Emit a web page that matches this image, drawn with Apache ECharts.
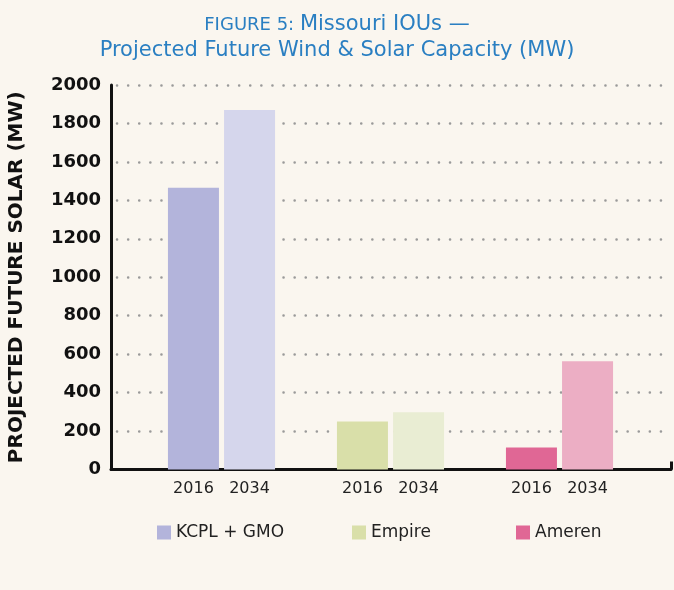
<!DOCTYPE html>
<html>
<head>
<meta charset="utf-8">
<script src="https://cdn.jsdelivr.net/npm/echarts@6/dist/echarts.min.js"></script>
<style>
  html, body { margin: 0; padding: 0; background: #faf6ef; }
  #chart { width: 674px; height: 590px; }
</style>
</head>
<body>
<div id="chart"></div>
<script>
// data
var companies = ['KCPL + GMO', 'Empire', 'Ameren'];
var years = ['2016', '2034'];
var values2016 = [1465, 250, 115];
var values2034 = [1870, 298, 563];
var colors2016 = ['#b3b4db', '#d9dfa9', '#e06795'];
var colors2034 = ['#d5d6ec', '#e9edd3', '#ecaec4'];
var legendLeft = [157, 352, 516];

var FONT = 'DejaVu Sans';
var myChart = echarts.init(document.getElementById('chart'));

function barData(vals, cols) {
  var out = [];
  for (var i = 0; i < vals.length; i++) {
    out.push({ value: vals[i], itemStyle: { color: cols[i] } });
  }
  return out;
}

var barLabel = {
  show: true,
  position: 'bottom',
  distance: 11,
  color: '#222',
  fontSize: 16,
  fontFamily: FONT,
  formatter: function (p) { return p.seriesName; }
};

var series = [
  {
    name: years[0], type: 'bar', xAxisIndex: 1, yAxisIndex: 1,
    barWidth: 51, barGap: '10%',
    label: barLabel,
    data: barData(values2016, colors2016)
  },
  {
    name: years[1], type: 'bar', xAxisIndex: 1, yAxisIndex: 1,
    barWidth: 51, barGap: '10%',
    label: barLabel,
    data: barData(values2034, colors2034)
  }
];
// dummy series only for the legend swatches
for (var i = 0; i < companies.length; i++) {
  series.push({ name: companies[i], type: 'line', xAxisIndex: 1, yAxisIndex: 1, data: [], itemStyle: { color: colors2016[i] } });
}

var legends = [];
for (var j = 0; j < companies.length; j++) {
  legends.push({
    data: [companies[j]],
    left: legendLeft[j],
    top: 524,
    padding: 0,
    icon: 'rect',
    itemWidth: 14,
    itemHeight: 14,
    selectedMode: false,
    textStyle: { color: '#222', fontSize: 17, fontFamily: FONT }
  });
}

var option = {
  backgroundColor: '#faf6ef',
  animation: false,
  title: {
    text: '{s|FIGURE 5:} {b|Missouri IOUs —}\n{b|Projected Future Wind & Solar Capacity (MW)}',
    left: 'center',
    top: 7,
    textStyle: {
      color: '#2a7fc2', fontFamily: FONT, fontWeight: 'normal',
      rich: {
        s: { color: '#2a7fc2', fontSize: 18, fontFamily: FONT, lineHeight: 26 },
        b: { color: '#2a7fc2', fontSize: 21, fontFamily: FONT, lineHeight: 26 }
      }
    }
  },
  legend: legends,
  grid: [
    { left: 111, right: 3, top: 85, bottom: 120.5, outerBoundsMode: 'none' },
    { left: 137, right: 30, top: 85, bottom: 120.5, outerBoundsMode: 'none' }
  ],
  xAxis: [
    {
      gridIndex: 0, type: 'value', min: 0, max: 1, interval: 1,
      axisLine: { show: true, lineStyle: { color: '#111', width: 3 } },
      axisTick: { show: true, inside: true, length: 8, lineStyle: { color: '#111', width: 3 } },
      axisLabel: { show: false },
      splitLine: { show: false }
    },
    {
      gridIndex: 1, type: 'category', data: companies,
      axisLine: { show: false }, axisTick: { show: false }, axisLabel: { show: false }
    }
  ],
  yAxis: [
    {
      gridIndex: 0, type: 'value', min: 0, max: 2000, interval: 200,
      name: 'PROJECTED FUTURE SOLAR (MW)',
      nameLocation: 'middle',
      nameGap: 84,
      nameTextStyle: { color: '#111', fontSize: 20, fontWeight: 'bold', fontFamily: FONT },
      axisLine: { show: true, lineStyle: { color: '#111', width: 3 } },
      axisTick: { show: false },
      axisLabel: { color: '#111', fontSize: 18, fontWeight: 'bold', fontFamily: FONT, margin: 10,
        formatter: function (v) { return String(v); } },
      splitLine: { show: true, lineStyle: { color: '#9a9a9a', width: 2.5, type: [0.1, 11], cap: 'round', dashOffset: -6 } }
    },
    {
      gridIndex: 1, type: 'value', min: 0, max: 2000, show: false
    }
  ],
  series: series
};

myChart.setOption(option);
</script>
</body>
</html>
